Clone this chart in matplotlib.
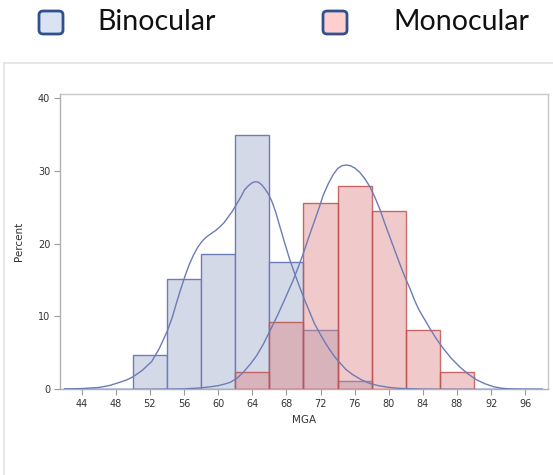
import matplotlib.pyplot as plt
from matplotlib.patches import FancyBboxPatch, Rectangle

# ------------------------------
# Data: percent per 4-unit MGA bin
# ------------------------------
bin_width = 4
bino_edges = [50, 54, 58, 62, 66, 70, 74]
bino_pct = [4.65, 15.12, 18.60, 34.88, 17.44, 8.14, 1.16]

mono_edges = [62, 66, 70, 74, 78, 82, 86]
mono_pct = [2.33, 9.30, 25.58, 27.91, 24.42, 8.14, 2.33]

# density curves (percent scale)
bino_curve_x = [42.0, 44.0, 46.0, 47.2, 48.3, 49.2, 50.0, 51.1, 52.2, 53.1, 54.0, 54.6,
                55.1, 55.6, 56.1, 56.6, 57.1, 57.6, 58.1, 58.6, 59.2, 59.7, 60.2, 60.7,
                61.2, 61.7, 62.2, 62.7, 63.1, 63.5, 63.9, 64.3, 64.7, 65.1, 65.5, 65.9,
                66.3, 66.7, 67.2, 67.8, 68.4, 69.0, 69.6, 70.2, 70.8, 71.3, 71.9, 72.5,
                73.1, 73.7, 74.3, 75.0, 75.8, 76.8, 77.8, 78.8, 79.8, 80.7, 81.7, 83.0,
                84.5, 87.0, 98.0]
bino_curve_y = [0.05, 0.1, 0.25, 0.5, 0.9, 1.25, 1.7, 2.6, 3.8, 5.6, 7.9, 9.8,
                11.8, 13.7, 15.5, 17.1, 18.4, 19.5, 20.3, 20.9, 21.4, 21.8, 22.3, 22.9,
                23.7, 24.5, 25.5, 26.5, 27.4, 27.9, 28.3, 28.5, 28.45, 28.1, 27.5, 26.8,
                25.8, 24.5, 22.5, 20.1, 17.8, 15.8, 13.9, 12.1, 10.4, 9.0, 7.7, 6.5,
                5.4, 4.4, 3.6, 2.7, 2.0, 1.3, 0.8, 0.5, 0.3, 0.18, 0.1, 0.05,
                0.02, 0.0, 0.0]

mono_curve_x = [42.0, 52.0, 56.0, 58.0, 59.0, 60.0, 60.7, 61.4, 62.2, 63.0, 63.8, 64.5,
                65.3, 66.1, 66.9, 67.6, 68.2, 68.8, 69.4, 70.0, 70.6, 71.2, 71.8, 72.3,
                72.9, 73.5, 74.0, 74.5, 75.0, 75.5, 76.0, 76.6, 77.2, 77.8, 78.4, 79.0,
                79.5, 80.1, 80.7, 81.3, 81.9, 82.5, 83.0, 83.5, 84.2, 84.8, 85.6, 86.4,
                87.3, 88.3, 89.3, 90.3, 91.3, 92.3, 93.2, 94.2, 96.0, 98.0]
mono_curve_y = [0.0, 0.0, 0.05, 0.2, 0.33, 0.5, 0.7, 0.95, 1.5, 2.4, 3.5, 4.6,
                6.2, 8.1, 10.0, 11.8, 13.4, 15.0, 16.8, 18.7, 20.8, 22.8, 24.8, 26.6,
                28.2, 29.5, 30.3, 30.7, 30.8, 30.7, 30.4, 29.8, 28.9, 27.8, 26.3, 24.6,
                22.9, 21.0, 19.1, 17.2, 15.4, 13.8, 12.3, 11.0, 9.6, 8.4, 6.9, 5.6,
                4.3, 3.1, 2.1, 1.3, 0.75, 0.35, 0.15, 0.05, 0.01, 0.0]

xticks = [44, 48, 52, 56, 60, 64, 68, 72, 76, 80, 84, 88, 92, 96]
yticks = [0, 10, 20, 30, 40]

# ------------------------------
# Figure
# ------------------------------
W, H = 553, 475
fig = plt.figure(figsize=(W / 100, H / 100), dpi=100)
ax = fig.add_axes([60 / W, 1 - 389.3 / H, (548 - 60) / W, (389.3 - 94) / H])

ax.bar(bino_edges, bino_pct, width=bin_width, align='edge',
       color='#d3d9e7', edgecolor='#6d7db5', linewidth=1.0, zorder=2)
ax.bar(mono_edges, mono_pct, width=bin_width, align='edge',
       color='#df8487', alpha=0.44, edgecolor='none', zorder=3)
ax.bar(mono_edges, mono_pct, width=bin_width, align='edge',
       fill=False, edgecolor='#c05552', linewidth=1.0, alpha=0.85, zorder=4)

ax.plot(bino_curve_x, bino_curve_y, color='#6c7cb6', lw=1.0, zorder=5)
ax.plot(mono_curve_x, mono_curve_y, color='#6c7cb6', lw=1.0, zorder=5)

ax.set_xlim(41.46, 98.67)
ax.set_ylim(0, 40.55)
ax.set_xticks(xticks)
ax.set_yticks(yticks)
ax.tick_params(axis='both', direction='out', length=4, width=0.8, color='#9a9a9a',
               labelsize=7, labelcolor='#333333', pad=3)
for s in ax.spines.values():
    s.set_color('#c8c8c8')
    s.set_linewidth(1.0)
ax.spines['left'].set_color('#b0b0b0')
ax.spines['bottom'].set_color('#b0b0b0')

ax.set_xlabel('MGA', fontsize=7.5, color='#333333', labelpad=4)
ax.set_ylabel('Percent', fontsize=7.5, color='#333333', labelpad=10)

# outer panel border
fig.add_artist(Rectangle((4 / W, -0.05), 1.0, 1 - 63.3 / H + 0.05,
                         transform=fig.transFigure, fill=False,
                         edgecolor='#e2e2e2', linewidth=1.2))

# ------------------------------
# Legend above the panel
# ------------------------------
def legend_box(x0, face):
    box = FancyBboxPatch((x0 / W, 1 - 34 / H), 24 / W, 23 / H,
                         boxstyle='round,pad=0,rounding_size=0.008',
                         transform=fig.transFigure, facecolor=face,
                         edgecolor='#2f528f', linewidth=2.0)
    fig.add_artist(box)

legend_box(39, '#dae3f3')
legend_box(323, '#ffcfcf')
fig.text(97 / W, 1 - 22.5 / H, 'Binocular', fontsize=20.5, family='Lato',
         va='center', ha='left', color='#111111')
fig.text(393 / W, 1 - 22.5 / H, 'Monocular', fontsize=20.5, family='Lato',
         va='center', ha='left', color='#111111')

fig.savefig('out.png', dpi=100)
